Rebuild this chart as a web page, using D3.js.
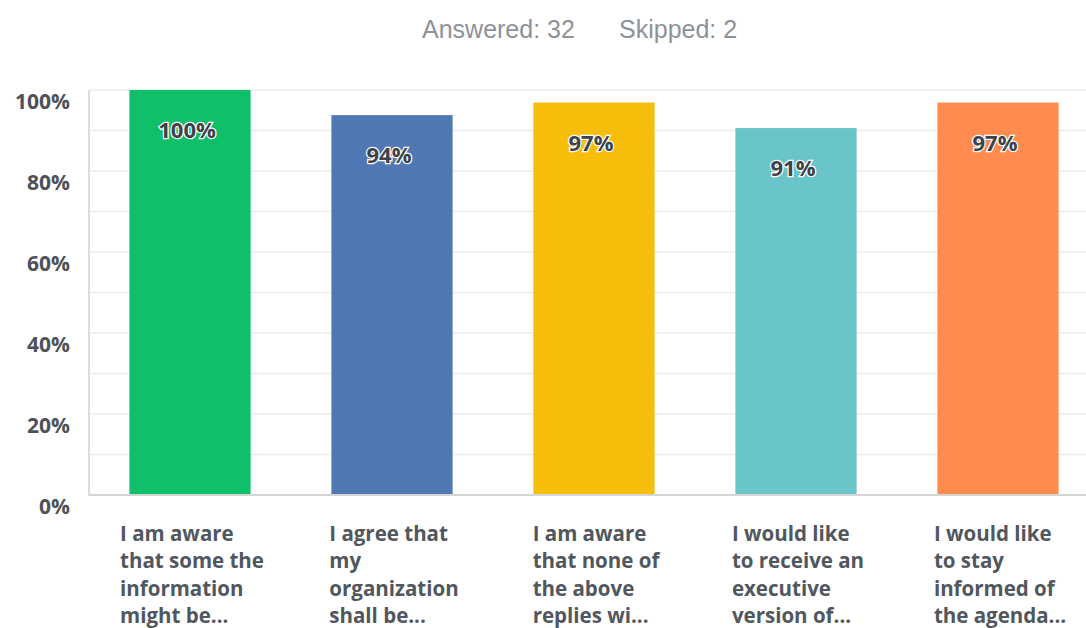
<!DOCTYPE html>
<html><head><meta charset="utf-8">
<script src="https://cdn.jsdelivr.net/npm/d3@7"></script>
<style>body{margin:0;background:#fff}</style>
</head><body>
<svg id="c" width="1086" height="628"></svg>
<script>
const categories = [
  ["I am aware","that some the","information","might be..."],
  ["I agree that","my","organization","shall be..."],
  ["I am aware","that none of","the above","replies wi..."],
  ["I would like","to receive an","executive","version of..."],
  ["I would like","to stay","informed of","the agenda..."]
];
const values = [100, 93.8, 96.9, 90.6, 96.9];
const colors = ["#0fbf6a", "#5078b5", "#f7bd0b", "#6ac5cb", "#ff8b4f"];
const yTicks = [0, 20, 40, 60, 80, 100];
const gridTicks = [10, 20, 30, 40, 50, 60, 70, 80, 90, 100];
const summary = ["Answered: 32", "Skipped: 2"];

const svg = d3.select("#c");
const x = d3.scaleBand().domain(d3.range(values.length)).range([89, 1099]).paddingInner(0.4).paddingOuter(0.2);
const y = d3.scaleLinear().domain([0, 100]).range([495, 90]);
const boldFont = "'Open Sans', sans-serif";

// title
const t = svg.append("g").attr("font-family", "Liberation Sans, Arial, sans-serif").attr("font-size", 25).attr("fill", "#8d9298");
t.append("text").attr("x", 422).attr("y", 38).text(summary[0]);
t.append("text").attr("x", 619).attr("y", 38).text(summary[1]);

// grid
svg.append("g").selectAll("line").data(gridTicks).join("line")
  .attr("x1", 89).attr("x2", 1086).attr("y1", d => y(d)).attr("y2", d => y(d))
  .attr("stroke", "#ececec").attr("stroke-width", 1.5);

// axis line
svg.append("line").attr("x1", 89).attr("x2", 89).attr("y1", 90).attr("y2", 496).attr("stroke", "#dcdcdc").attr("stroke-width", 2);

// y axis labels
const yAxis = d3.axisLeft(y).tickValues(yTicks).tickFormat(d => d + "%").tickSize(0).tickPadding(19);
const ya = svg.append("g").attr("transform", "translate(89,12)").call(yAxis);
ya.select(".domain").remove();
ya.selectAll("text").attr("font-family", boldFont).attr("font-weight", "bold").attr("font-size", 21).attr("fill", "#4d5259");

// bars
svg.append("g").selectAll("rect").data(values).join("rect")
  .attr("x", (d, i) => x(i)).attr("width", x.bandwidth())
  .attr("y", d => y(d)).attr("height", d => y(0) - y(d))
  .attr("fill", (d, i) => colors[i]);

// baseline
svg.append("line").attr("x1", 89).attr("x2", 1086).attr("y1", 495).attr("y2", 495).attr("stroke", "#d6d6d6").attr("stroke-width", 2);

// value labels
svg.append("g").selectAll("text").data(values).join("text")
  .attr("x", (d, i) => x(i) + x.bandwidth() / 2 - 3)
  .attr("y", d => y(d) + 48)
  .attr("text-anchor", "middle")
  .attr("font-family", boldFont).attr("font-weight", "bold").attr("font-size", 22)
  .attr("fill", "#3c434b").attr("stroke", "#ffffff").attr("stroke-width", 2.5).attr("paint-order", "stroke")
  .text(d => Math.round(d) + "%");

// category labels
const cg = svg.append("g");
categories.forEach((lines, i) => {
  const g = cg.append("g");
  const txt = g.selectAll("text").data(lines).join("text")
    .attr("y", (d, j) => 541 + j * 27.3)
    .attr("font-family", boldFont).attr("font-weight", "bold").attr("font-size", 20.5)
    .attr("fill", "#51575e").text(d => d);
  let w = 0;
  txt.each(function() { w = Math.max(w, this.getComputedTextLength()); });
  const cx = x(i) + x.bandwidth() / 2 + 2;
  txt.attr("x", cx - w / 2);
});
</script>
</body></html>
